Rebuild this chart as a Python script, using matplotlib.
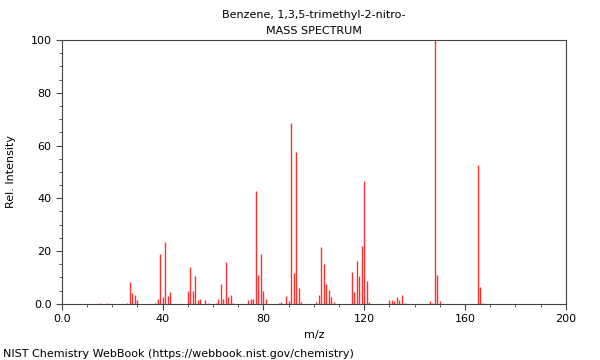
import matplotlib
matplotlib.use("Agg")
from matplotlib import pyplot as plt
from matplotlib.ticker import MultipleLocator, FuncFormatter

title = "Benzene, 1,3,5-trimethyl-2-nitro-"

# m/z and relative intensity
mz = [15, 18, 26, 27, 28, 29, 30, 37, 38, 39, 40, 41, 42, 43,
      50, 51, 52, 53, 54, 55, 57, 58, 61, 62, 63, 64, 65, 66, 67, 68,
      74, 75, 76, 77, 78, 79, 80, 81, 86, 87, 89, 90, 91, 92, 93, 94, 95,
      101, 102, 103, 104, 105, 106, 107, 108,
      115, 116, 117, 118, 119, 120, 121, 122,
      130, 131, 132, 133, 134, 135, 136,
      146, 147, 148, 149, 150, 165, 166, 167]
intensity = [0.4, 0.5, 0.5, 8.2, 4.1, 3.3, 1.4, 0.5, 1.8, 18.8, 2.6, 23.5, 3.1, 4.4,
             4.8, 14.0, 5.0, 10.4, 1.4, 2.0, 1.3, 0.5, 0.5, 2.0, 7.6, 2.0, 15.9, 2.5, 3.5, 0.5,
             1.6, 2.0, 1.8, 42.9, 11.1, 18.7, 4.7, 1.8, 0.3, 0.6, 3.1, 1.2, 68.6, 11.5, 57.4, 5.9, 0.8,
             0.8, 3.3, 21.6, 15.2, 7.7, 5.3, 2.7, 0.8,
             12.2, 4.3, 16.3, 10.7, 22.0, 46.6, 8.5, 0.8,
             1.5, 1.3, 1.0, 2.7, 1.5, 3.3, 0.5,
             1.0, 0.5, 100.0, 11.0, 0.9, 52.7, 6.2, 0.5]

fig = plt.figure(figsize=(6, 3.6), dpi=100)
ax = fig.add_axes([0.103, 0.156, 0.84, 0.733])

ax.vlines(mz, 0, intensity, colors="#ff3030", linewidth=1.0)

ax.set_xlim(0, 200)
ax.set_ylim(0, 100)
ax.xaxis.set_major_locator(MultipleLocator(40))
ax.xaxis.set_minor_locator(MultipleLocator(10))
ax.yaxis.set_major_locator(MultipleLocator(20))
ax.yaxis.set_minor_locator(MultipleLocator(5))

fmt = FuncFormatter(lambda v, pos: "0.0" if v == 0 else "%d" % v)
ax.xaxis.set_major_formatter(fmt)
ax.yaxis.set_major_formatter(fmt)
ax.tick_params(labelsize=8, length=4, color="#444444")
ax.tick_params(which="minor", length=2, color="#444444")
for s in ax.spines.values():
    s.set_color("#444444")

ax.set_xlabel("m/z", fontsize=8)
ax.set_ylabel("Rel. Intensity", fontsize=8, labelpad=10)
ax.set_title(title + "\nMASS SPECTRUM", fontsize=8, linespacing=1.8, pad=4)
fig.text(0.005, 0.008, "NIST Chemistry WebBook (https://webbook.nist.gov/chemistry)",
         fontsize=8)

plt.savefig("out.png")
